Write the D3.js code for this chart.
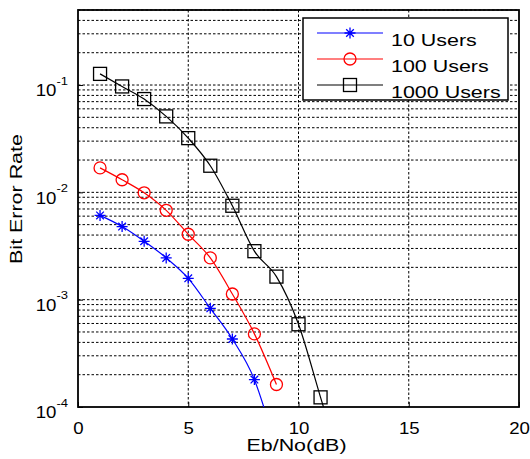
<!DOCTYPE html>
<html>
<head>
<meta charset="utf-8">
<script src="https://cdn.jsdelivr.net/npm/d3@7"></script>
<style>
body{margin:0;background:#fff;}
text{font-family:"Liberation Sans",Arial,sans-serif;fill:#000;}
</style>
</head>
<body>
<svg id="chart" width="530" height="459"></svg>
<script>
'use strict'

// Eb/No in dB
var ebno = [1, 2, 3, 4, 5, 6, 7, 8, 9, 10, 11, 12];
// bit error rates (last points fall below the axis and are clipped)
var users10 = [6.1e-3, 4.8e-3, 3.5e-3, 2.45e-3, 1.58e-3, 8.3e-4, 4.3e-4, 1.8e-4, 4e-5];
var users100 = [1.69e-2, 1.31e-2, 9.9e-3, 6.8e-3, 4.07e-3, 2.45e-3, 1.13e-3, 4.8e-4, 1.62e-4];
var users1000 = [0.127, 0.097, 0.074, 0.051, 0.032, 0.0177, 0.0075, 0.00283, 0.00164, 5.9e-4, 1.23e-4, 2.6e-5];
var seriesNames = ['10 Users', '100 Users', '1000 Users'];
var xTicks = [0, 5, 10, 15, 20];
var yTicks = [1e-4, 1e-3, 1e-2, 1e-1];

var margin = {left: 78, top: 10, right: 11, bottom: 52};
var W = 530, H = 459;
var pw = W - margin.left - margin.right;
var ph = H - margin.top - margin.bottom;

// the original text is drawn wide, so labels get stretched sideways
var wide = 1.3;
var tickWide = 1.13;

var svg = d3.select('#chart');
var g = svg.append('g').attr('transform', 'translate(' + margin.left + ',' + margin.top + ')');

var x = d3.scaleLinear().domain([0, 20]).range([0, pw]);
var y = d3.scaleLog().domain([1e-4, 0.5]).range([ph, 0]);

g.append('defs').append('clipPath').attr('id', 'clip')
	.append('rect').attr('width', pw).attr('height', ph);

// grid: every 1..9 x 10^k in the y range
var yGrid = [];
for(var k = -4; k <= -1; k++){
	for(var m = 1; m <= 9; m++){
		var v = m * Math.pow(10, k);
		if(v > 1e-4 && v <= 0.5) yGrid.push(v);
	}
}

g.selectAll('.hgrid').data(yGrid).enter().append('line')
	.attr('x1', 0).attr('x2', pw)
	.attr('y1', function(d){ return y(d); })
	.attr('y2', function(d){ return y(d); })
	.attr('stroke', '#000').attr('stroke-width', 1)
	.attr('stroke-dasharray', '2.5,2');

g.selectAll('.vgrid').data(xTicks.slice(1, -1)).enter().append('line')
	.attr('x1', function(d){ return x(d); })
	.attr('x2', function(d){ return x(d); })
	.attr('y1', 0).attr('y2', ph)
	.attr('stroke', '#000').attr('stroke-width', 1)
	.attr('stroke-dasharray', '2.5,2');

// axes
var xAxis = d3.axisBottom(x).tickValues(xTicks).tickSize(-5).tickPadding(15).tickFormat(d3.format('d'));
var gx = g.append('g').attr('transform', 'translate(0,' + ph + ')').call(xAxis);
gx.select('.domain').remove();
gx.selectAll('text')
	.attr('font-size', 16.5)
	.attr('transform', 'scale(' + tickWide + ',1)')
	.style('font-family', '"Liberation Sans",Arial,sans-serif');

var yAxis = d3.axisLeft(y).tickValues(yTicks).tickSize(-5).tickFormat('');
var gy = g.append('g').call(yAxis);
gy.select('.domain').remove();
gy.selectAll('.tick text').remove();

gy.selectAll('.tick').each(function(d){
	var t = d3.select(this).append('text')
		.attr('transform', 'translate(-21,0) scale(' + tickWide + ',1)')
		.attr('y', 10.7)
		.attr('text-anchor', 'end')
		.attr('font-size', 16.5)
		.style('fill', '#000');
	t.append('tspan').text('10');
	t.append('tspan').attr('font-size', 11.5).attr('dy', -11.5).text('-' + Math.abs(Math.round(Math.log10(d))));
	t.attr('transform', 'translate(-10,0) scale(' + tickWide + ',1)');
});

g.append('rect').attr('width', pw).attr('height', ph)
	.attr('fill', 'none').attr('stroke', '#000').attr('stroke-width', 1.8);

// curves
var lineGen = d3.line()
	.x(function(d){ return x(d[0]); })
	.y(function(d){ return y(d[1]); })
	.curve(d3.curveMonotoneX);

var series = [
	{name: seriesNames[0], vals: users10, color: '#0000ff', mark: 'star'},
	{name: seriesNames[1], vals: users100, color: '#ff0000', mark: 'circle'},
	{name: seriesNames[2], vals: users1000, color: '#000000', mark: 'square'}
];

var plot = g.append('g').attr('clip-path', 'url(#clip)');

function drawMark(sel, type, color){
	if(type === 'star'){
		var p = 'M-5.5,0L5.5,0M0,-5.5L0,5.5M-3.8,-3.8L3.8,3.8M-3.8,3.8L3.8,-3.8';
		sel.append('path').attr('d', p).attr('stroke', color).attr('stroke-width', 1.3).attr('fill', 'none');
	}
	else if(type === 'circle'){
		sel.append('circle').attr('r', 6).attr('stroke', color).attr('stroke-width', 1.3).attr('fill', 'none');
	}
	else{
		sel.append('rect').attr('x', -6.5).attr('y', -6.5).attr('width', 13).attr('height', 13)
			.attr('stroke', color).attr('stroke-width', 1.3).attr('fill', 'none');
	}
}

series.forEach(function(s){
	var pts = s.vals.map(function(v, i){ return [ebno[i], v]; });
	plot.append('path').attr('d', lineGen(pts))
		.attr('fill', 'none').attr('stroke', s.color).attr('stroke-width', 1.2);
	pts.forEach(function(p){
		var mg = plot.append('g').attr('transform', 'translate(' + x(p[0]) + ',' + y(p[1]) + ')');
		drawMark(mg, s.mark, s.color);
	});
});

// legend
var lg = svg.append('g').attr('transform', 'translate(303,18)');
lg.append('rect').attr('width', 205).attr('height', 82)
	.attr('fill', '#fff').attr('stroke', '#000').attr('stroke-width', 1.5);
series.forEach(function(s, i){
	var ry = 15 + i * 26;
	lg.append('line').attr('x1', 14).attr('x2', 80).attr('y1', ry).attr('y2', ry)
		.attr('stroke', s.color).attr('stroke-width', 1.2);
	drawMark(lg.append('g').attr('transform', 'translate(47,' + ry + ')'), s.mark, s.color);
	lg.append('text')
		.attr('transform', 'translate(88,' + (ry + 12.5) + ') scale(' + wide + ',1)')
		.attr('font-size', 16.5).text(s.name);
});

// axis titles
svg.append('text')
	.attr('transform', 'translate(' + (margin.left + pw / 2 - 2) + ',451) scale(' + wide + ',1)')
	.attr('text-anchor', 'middle').attr('font-size', 16.5).text('Eb/No(dB)');
svg.append('text')
	.attr('transform', 'translate(22,199) rotate(-90) scale(' + wide + ',1)')
	.attr('text-anchor', 'middle').attr('font-size', 16.5).text('Bit Error Rate');
</script>
</body>
</html>
